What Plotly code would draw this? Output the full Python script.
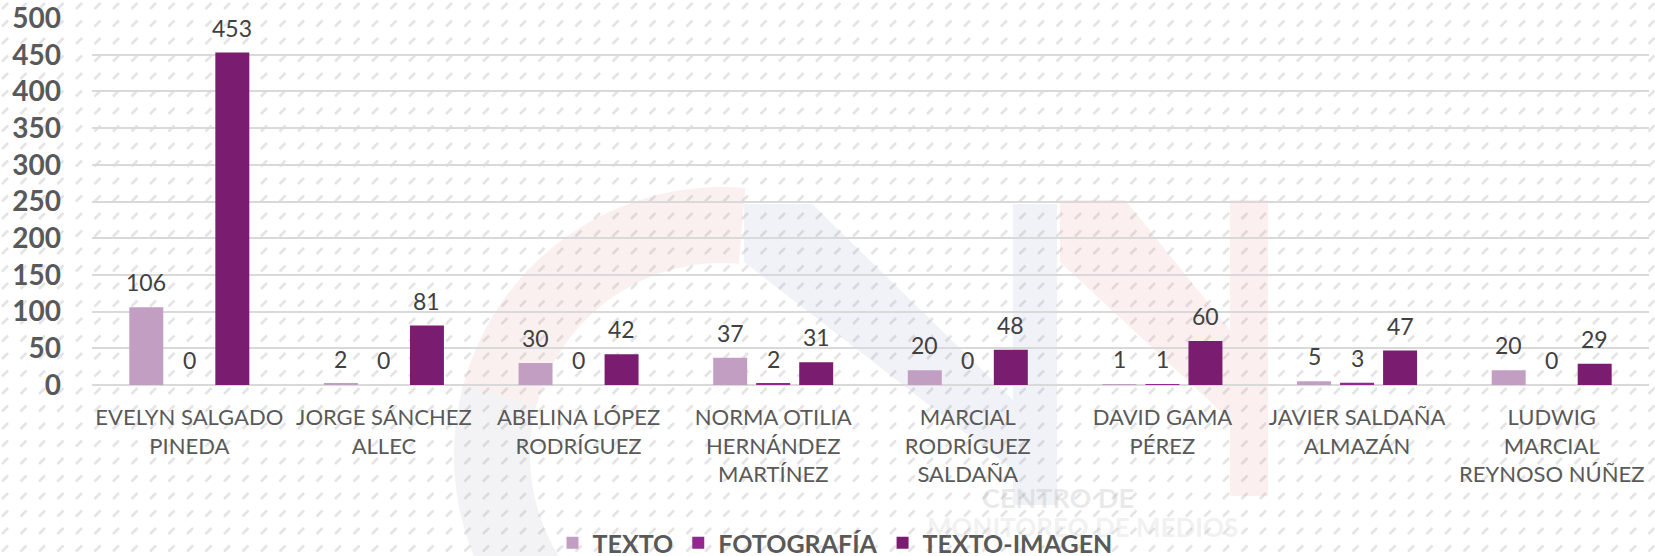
import numpy as np
import plotly.graph_objects as go

categories = [
    "EVELYN SALGADO<br>PINEDA",
    "JORGE SÁNCHEZ<br>ALLEC",
    "ABELINA LÓPEZ<br>RODRÍGUEZ",
    "NORMA OTILIA<br>HERNÁNDEZ<br>MARTÍNEZ",
    "MARCIAL<br>RODRÍGUEZ<br>SALDAÑA",
    "DAVID GAMA<br>PÉREZ",
    "JAVIER SALDAÑA<br>ALMAZÁN",
    "LUDWIG<br>MARCIAL<br>REYNOSO NÚÑEZ",
]
texto = [106, 2, 30, 37, 20, 1, 5, 20]
fotografia = [0, 0, 0, 2, 0, 1, 3, 0]
texto_imagen = [453, 81, 42, 31, 48, 60, 47, 29]
y_ticks = [0, 50, 100, 150, 200, 250, 300, 350, 400, 450, 500]

series = [
    ("TEXTO", texto, "#C39EC3"),
    ("FOTOGRAFÍA", fotografia, "#93278F"),
    ("TEXTO-IMAGEN", texto_imagen, "#7A1D71"),
]

FONT = "Lato, 'Open Sans', sans-serif"
BARGAP = 0.337
W, H = 1655, 556
ML, MR, MT, MB = 92, 6, 18, 171
PW, PH = W - ML - MR, H - MT - MB

fig = go.Figure()
for name, vals, color in series:
    fig.add_trace(go.Bar(
        name=name, x=list(range(len(categories))), y=vals,
        marker=dict(color=color, line=dict(width=0)),
    ))

# data labels above bars
n = len(series)
slot = (1 - BARGAP) / n
for j, (name, vals, color) in enumerate(series):
    for i, v in enumerate(vals):
        fig.add_annotation(
            x=i + (j - (n - 1) / 2) * slot, y=v, xref="x", yref="y",
            text=str(v), showarrow=False, yanchor="middle", yshift=25,
            font=dict(family=FONT, size=23, color="#404040"),
        )

# background decoration (hatch + faint logo watermark), positioned in pixels
def px(x, y):
    return (x - ML) / PW, (H - MB - y) / PH

def fmt(x, y):
    a, b = px(x, y)
    return f"{a:.4f},{b:.4f}"

def poly(pts):
    return "M " + " L ".join(fmt(x, y) for x, y in pts) + " Z"

def ring(cx, cy, R, r, a0, a1, k=60):
    t = np.radians(np.linspace(a0, a1, k))
    outer = [(cx + R * np.cos(a), cy - R * np.sin(a)) for a in t]
    inner = [(cx + r * np.cos(a), cy - r * np.sin(a)) for a in t[::-1]]
    return poly(outer + inner)

hatch = []
for yy in np.arange(6, H + 10, 17.5):
    for xx in np.arange(2, W + 10, 18.5):
        hatch.append(f"M {fmt(xx, yy + 3)} L {fmt(xx + 6, yy - 3)}")

shapes = [
    dict(type="path", xref="paper", yref="paper", layer="below",
         line=dict(width=2.6, color="rgba(205,205,205,0.55)"), path=" ".join(hatch)),
    dict(type="path", xref="paper", yref="paper", layer="below", line=dict(width=0),
         fillcolor="rgba(225,140,140,0.13)", path=ring(722, 455, 268, 192, 85, 165)),
    dict(type="path", xref="paper", yref="paper", layer="below", line=dict(width=0),
         fillcolor="rgba(160,160,170,0.12)", path=ring(722, 455, 268, 192, 165, 262)),
    dict(type="path", xref="paper", yref="paper", layer="below", line=dict(width=0),
         fillcolor="rgba(120,130,175,0.10)",
         path=poly([(744, 204), (812, 204), (1013, 400), (1013, 204), (1057, 204),
                    (1057, 505), (1013, 505), (1013, 470), (744, 262)])),
    dict(type="path", xref="paper", yref="paper", layer="below", line=dict(width=0),
         fillcolor="rgba(230,120,120,0.12)",
         path=poly([(1060, 200), (1125, 200), (1230, 330), (1230, 200), (1268, 200),
                    (1268, 496), (1230, 496), (1230, 420), (1060, 262)])),
]

wx, wy = px(1058, 497)
fig.add_annotation(x=wx, y=wy, xref="paper", yref="paper", showarrow=False,
                   text="CENTRO DE", xanchor="center", yanchor="middle",
                   font=dict(family=FONT, size=27, color="rgba(170,170,170,0.25)", weight="bold"))
wx, wy = px(1082, 527)
fig.add_annotation(x=wx, y=wy, xref="paper", yref="paper", showarrow=False,
                   text="MONITOREO DE MEDIOS", xanchor="center", yanchor="middle",
                   font=dict(family=FONT, size=26, color="rgba(170,170,170,0.18)", weight="bold"))

fig.update_layout(
    width=W, height=H,
    margin=dict(l=ML, r=MR, t=MT, b=MB),
    paper_bgcolor="white", plot_bgcolor="rgba(0,0,0,0)",
    barmode="group", bargap=BARGAP, bargroupgap=0.21,
    font=dict(family=FONT, color="#595959"),
    showlegend=True,
    shapes=shapes,
    legend=dict(orientation="h", xref="container", yref="container",
                x=835 / W, xanchor="center", y=1 - 543 / H, yanchor="middle",
                font=dict(family=FONT, size=25, color="#595959", weight="bold"),
                itemwidth=30, bgcolor="rgba(0,0,0,0)"),
)
fig.update_yaxes(range=[0, 500], tickvals=y_ticks, showgrid=True, gridcolor="#D9D9D9", gridwidth=1.5,
                 zeroline=True, zerolinecolor="#D9D9D9", zerolinewidth=1.5,
                 tickfont=dict(family=FONT, size=28, color="#595959", weight="bold"),
                 ticklabelstandoff=30, showline=False, automargin=False,
                 ticklabeloverflow="allow")
fig.update_xaxes(tickmode="array", tickvals=list(range(len(categories))), ticktext=categories,
                 range=[-0.5, len(categories) - 0.5],
                 tickfont=dict(family=FONT, size=22, color="#595959"), showline=False,
                 ticks="", tickangle=0, ticklabelstandoff=17, automargin=False,
                 ticklabeloverflow="allow")

fig.write_html("out.html", config={"displayModeBar": False},
               post_script="document.body.style.margin='0';document.body.style.overflow='hidden';")
